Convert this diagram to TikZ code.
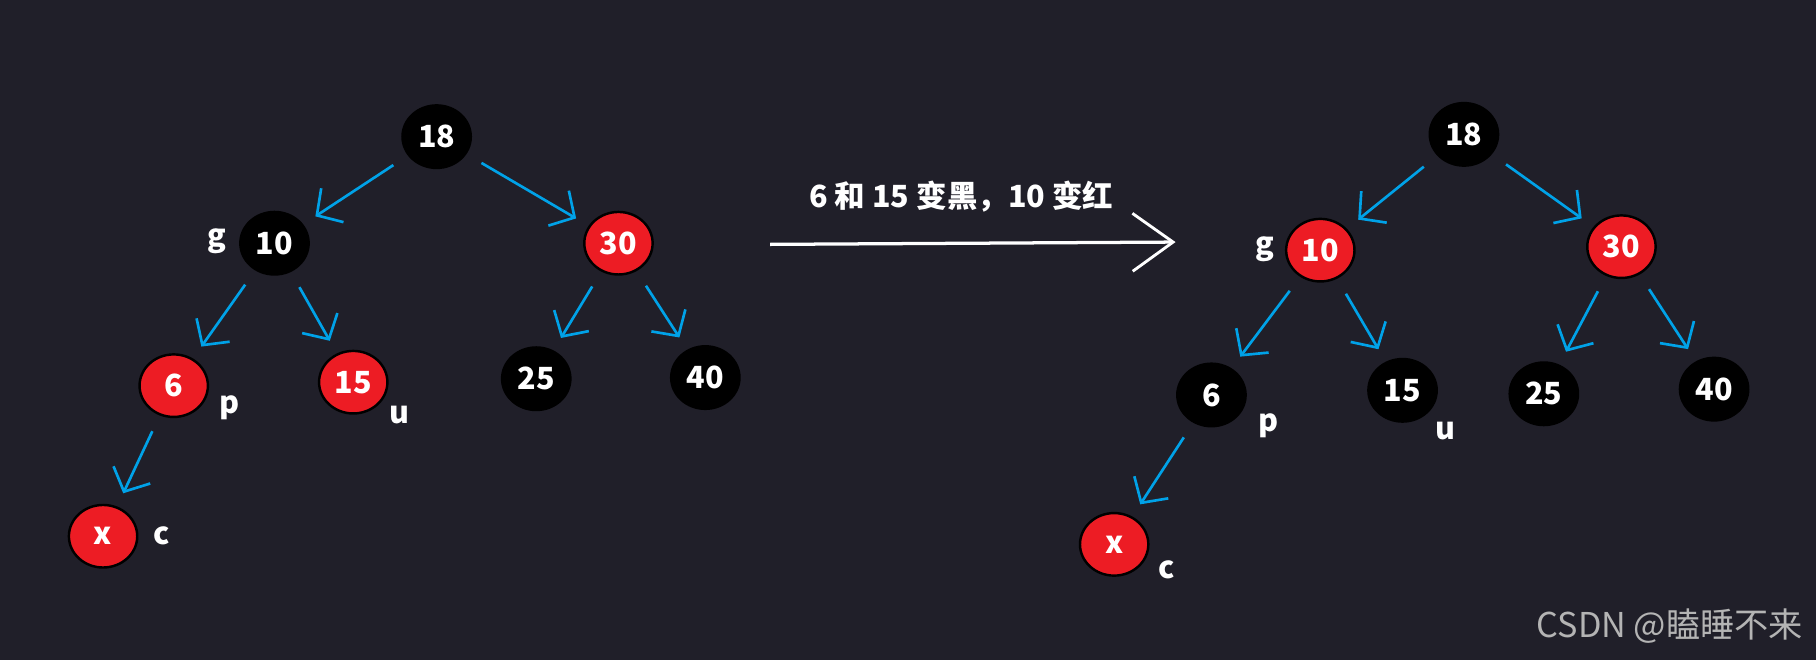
\documentclass[tikz,border=0pt]{standalone}
\usepackage{fontspec}
\setmainfont{Noto Sans CJK SC}
\usepackage{tikz}
\usetikzlibrary{arrows.meta,shapes.geometric,positioning,calc}
\definecolor{bgdark}{HTML}{201F29}
\definecolor{rbred}{HTML}{ED1C24}
\definecolor{penblue}{HTML}{00A2E8}
\definecolor{markgray}{HTML}{B4B4B4}
\tikzset{
  rbnode/.style={ellipse, draw=black, line width=1.2pt, minimum width=1.18cm,
                 minimum height=1.08cm, inner sep=0pt, text=white,
                 font=\fontsize{15}{15}\selectfont\bfseries},
  blk/.style={rbnode, fill=black},
  red/.style={rbnode, fill=rbred},
  tag/.style={text=white, font=\fontsize{15}{15}\selectfont\bfseries},
  edge/.style={draw=penblue, line width=1.3pt, shorten <=0.3cm, shorten >=0.25cm,
               -{Straight Barb[length=3.2mm, width=7mm, line width=1.3pt]}}
}
\begin{document}
\begin{tikzpicture}
  \fill[bgdark] (0,0) rectangle (31.36,-11.40);
  \useasboundingbox (0,0) rectangle (31.36,-11.40);

  % before
  \node[blk] (a18) at (7.54,-2.36) {18};
  \node[blk] (a10) at (4.74,-4.20) {10};
  \node[red] (a30) at (10.68,-4.20) {30};
  \node[red] (a6)  at (3.00,-6.66) {6};
  \node[red] (a15) at (6.10,-6.60) {15};
  \node[blk] (a25) at (9.26,-6.54) {25};
  \node[blk] (a40) at (12.18,-6.52) {40};
  \node[red] (ax)  at (1.78,-9.26) {x};

  \node[tag] (ag) at (3.74,-4.16) {g};
  \node[tag] (ap) at (3.96,-7.04) {p};
  \node[tag] (au) at (6.90,-7.16) {u};
  \node[tag] (ac) at (2.80,-9.26) {c};

  \draw[edge] (a18) -- (a10);
  \draw[edge] (a18) -- (a30);
  \draw[edge] (a10) -- (a6);
  \draw[edge] (a10) -- (a15);
  \draw[edge] (a30) -- (a25);
  \draw[edge] (a30) -- (a40);
  \draw[edge] (a6) -- (ax);

  % recolour step
  \node[text=white, font=\fontsize{15}{15}\selectfont\bfseries] (step1) at (16.60,-3.40) {6 和 15 变黑，10 变红};
  \coordinate (from) at (13.30,-4.22);
  \coordinate (to) at (20.30,-4.18);
  \draw[white, line width=1.6pt, -{Straight Barb[length=7mm, width=10mm, line width=1.4pt]}] (from) -- (to);

  % after
  \node[blk] (b18) at (25.28,-2.32) {18};
  \node[red] (b10) at (22.80,-4.32) {10};
  \node[red] (b30) at (28.00,-4.26) {30};
  \node[blk] (b6)  at (20.92,-6.82) {6};
  \node[blk] (b15) at (24.22,-6.74) {15};
  \node[blk] (b25) at (26.66,-6.80) {25};
  \node[blk] (b40) at (29.60,-6.72) {40};
  \node[red] (bx)  at (19.24,-9.40) {x};

  \node[tag] (bg) at (21.84,-4.30) {g};
  \node[tag] (bp) at (21.90,-7.36) {p};
  \node[tag] (bu) at (24.96,-7.44) {u};
  \node[tag] (bc) at (20.14,-9.84) {c};

  \draw[edge] (b18) -- (b10);
  \draw[edge] (b18) -- (b30);
  \draw[edge] (b10) -- (b6);
  \draw[edge] (b10) -- (b15);
  \draw[edge] (b30) -- (b25);
  \draw[edge] (b30) -- (b40);
  \draw[edge] (b6) -- (bx);

  \node[anchor=east, text=markgray, font=\fontsize{16.8}{16.8}\selectfont] (mark) at (31.26,-10.82) {CSDN @瞌睡不来};
\end{tikzpicture}
\end{document}
